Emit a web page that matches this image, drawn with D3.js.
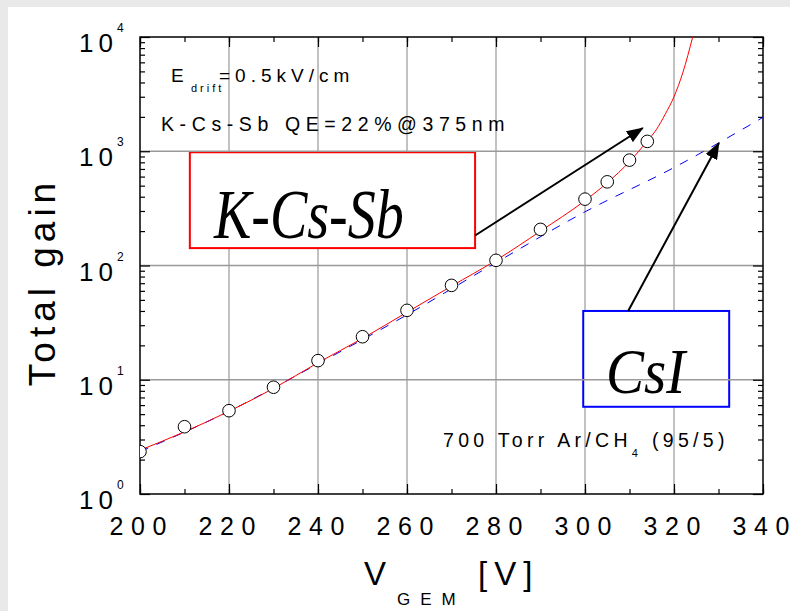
<!DOCTYPE html>
<html>
<head>
<meta charset="utf-8">
<script src="https://cdn.jsdelivr.net/npm/d3@7"></script>
<style>
  body { margin: 0; background: #e8e8e8; }
  svg { display: block; }
  text { font-family: "Liberation Sans", Arial, sans-serif; fill: #000; }
</style>
</head>
<body>
<div id="chart"></div>
<script>
// measured points (circles)
const volts = [200, 210, 220, 230, 240, 250, 260, 270, 280, 290, 300, 305, 310, 314];
const gains = [2.35, 3.88, 5.36, 8.6, 14.7, 23.8, 40.5, 67, 111, 207, 381, 540, 836, 1220];

// red fit curve (K-Cs-Sb)
const fitVolts = [200, 210, 220, 230, 240, 250, 260, 270, 280, 290, 300, 305, 310, 314, 316, 318, 320, 322, 324.2];
const fitGains = [2.42, 3.5, 5.3, 8.4, 14.1, 23, 39, 66, 111, 200, 370, 530, 810, 1230, 1540, 2100, 3000, 4900, 10000];

// blue dashed curve (CsI)
const csiVolts = [200, 220, 240, 260, 280, 300, 320, 340];
const csiGains = [2.35, 5.3, 13.8, 37, 106, 295, 720, 1980];

const xTicks = [200, 220, 240, 260, 280, 300, 320, 340];
const yExps = [0, 1, 2, 3, 4];

const W = 790, H = 611;
const plot = {left: 140, right: 763, top: 37, bottom: 494};

const svg = d3.select("#chart").append("svg")
    .attr("width", W)
    .attr("height", H);

// slide background: grey band top/left, white panel
svg.append("rect").attr("width", W).attr("height", H).attr("fill", "#e9e9e9");
svg.append("rect").attr("x", 8).attr("y", 7).attr("width", W - 8).attr("height", H - 7).attr("fill", "#fff");

const x = d3.scaleLinear().domain([200, 340]).range([plot.left, plot.right]);
const y = d3.scaleLog().domain([1, 1e4]).range([plot.bottom, plot.top]);

svg.append("defs").append("clipPath").attr("id", "clip")
  .append("rect")
    .attr("x", plot.left).attr("y", plot.top)
    .attr("width", plot.right - plot.left).attr("height", plot.bottom - plot.top);

svg.select("defs").append("marker")
    .attr("id", "head")
    .attr("viewBox", "0 0 17 13")
    .attr("refX", 16).attr("refY", 6.5)
    .attr("markerWidth", 17).attr("markerHeight", 13)
    .attr("markerUnits", "userSpaceOnUse")
    .attr("orient", "auto")
  .append("path")
    .attr("d", "M0,0L17,6.5L0,13Z")
    .attr("fill", "#000");

// vertical grid
svg.append("g").selectAll("line")
  .data(xTicks.slice(1, -1))
  .enter().append("line")
    .attr("x1", d => x(d)).attr("x2", d => x(d))
    .attr("y1", plot.top).attr("y2", plot.bottom)
    .attr("stroke", "#858585").attr("stroke-width", 1);

// K-Cs-Sb label box
svg.append("rect")
    .attr("x", x(211.2)).attr("y", y(1000) + 1)
    .attr("width", x(275.3) - x(211.2)).attr("height", y(142) - y(1000) - 1)
    .attr("fill", "#fff").attr("stroke", "#ff0000").attr("stroke-width", 2);

// CsI label box
svg.append("rect")
    .attr("x", x(299.6)).attr("y", y(40))
    .attr("width", x(332.4) - x(299.6)).attr("height", y(5.8) - y(40))
    .attr("fill", "#fff").attr("stroke", "#0000ff").attr("stroke-width", 2);

// horizontal grid
svg.append("g").selectAll("line")
  .data(yExps.slice(1, -1))
  .enter().append("line")
    .attr("x1", plot.left).attr("x2", plot.right)
    .attr("y1", d => y(Math.pow(10, d))).attr("y2", d => y(Math.pow(10, d)))
    .attr("stroke", "#999").attr("stroke-width", 1.5);

// ticks, pointing inward
const minorX = d3.range(200, 341, 10);
const minorY = [];
yExps.slice(0, -1).forEach(e => { for (let m = 2; m < 10; m++) minorY.push(m * Math.pow(10, e)); });
const majorY = yExps.map(e => Math.pow(10, e));

svg.append("g").attr("transform", "translate(0," + plot.bottom + ")")
    .call(d3.axisBottom(x).tickValues(minorX).tickSize(-5).tickFormat(""));
svg.append("g").attr("transform", "translate(0," + plot.bottom + ")")
    .call(d3.axisBottom(x).tickValues(xTicks).tickSize(-10).tickFormat(""));
svg.append("g").attr("transform", "translate(0," + plot.top + ")")
    .call(d3.axisTop(x).tickValues(minorX).tickSize(-5).tickFormat(""));
svg.append("g").attr("transform", "translate(0," + plot.top + ")")
    .call(d3.axisTop(x).tickValues(xTicks).tickSize(-10).tickFormat(""));
svg.append("g").attr("transform", "translate(" + plot.left + ",0)")
    .call(d3.axisLeft(y).tickValues(minorY).tickSize(-5).tickFormat(""));
svg.append("g").attr("transform", "translate(" + plot.left + ",0)")
    .call(d3.axisLeft(y).tickValues(majorY).tickSize(-10).tickFormat(""));
svg.append("g").attr("transform", "translate(" + plot.right + ",0)")
    .call(d3.axisRight(y).tickValues(minorY).tickSize(-5).tickFormat(""));
svg.append("g").attr("transform", "translate(" + plot.right + ",0)")
    .call(d3.axisRight(y).tickValues(majorY).tickSize(-10).tickFormat(""));
svg.selectAll(".domain").remove();
svg.selectAll(".tick line").attr("stroke", "#000").attr("stroke-width", 1.2);

// frame
svg.append("rect")
    .attr("x", plot.left).attr("y", plot.top)
    .attr("width", plot.right - plot.left).attr("height", plot.bottom - plot.top)
    .attr("fill", "none").attr("stroke", "#000").attr("stroke-width", 1.5);

// curves
const line = d3.line()
    .x(d => x(d[0]))
    .y(d => y(d[1]))
    .curve(d3.curveMonotoneX);

const curves = svg.append("g").attr("clip-path", "url(#clip)");

curves.append("path")
    .datum(csiVolts.map((v, i) => [v, csiGains[i]]))
    .attr("d", line)
    .attr("fill", "none").attr("stroke", "#0000ff").attr("stroke-width", 1)
    .attr("stroke-dasharray", "9,9");

curves.append("path")
    .datum(fitVolts.map((v, i) => [v, fitGains[i]]))
    .attr("d", line)
    .attr("fill", "none").attr("stroke", "#ff0000").attr("stroke-width", 1);

curves.selectAll("circle")
  .data(volts.map((v, i) => [v, gains[i]]))
  .enter().append("circle")
    .attr("cx", d => x(d[0]))
    .attr("cy", d => y(d[1]))
    .attr("r", 6.3)
    .attr("fill", "#fff").attr("stroke", "#000").attr("stroke-width", 1);

// arrows
svg.append("line")
    .attr("x1", x(275.3)).attr("y1", y(183))
    .attr("x2", x(313)).attr("y2", y(1597))
    .attr("stroke", "#000").attr("stroke-width", 2)
    .attr("marker-end", "url(#head)");
svg.append("line")
    .attr("x1", x(309.7)).attr("y1", y(40))
    .attr("x2", x(330.1)).attr("y2", y(1181))
    .attr("stroke", "#000").attr("stroke-width", 2)
    .attr("marker-end", "url(#head)");

// box labels
svg.append("text")
    .attr("transform", "translate(214,238) scale(1,1.25)")
    .style("font-family", "'Liberation Serif', 'Times New Roman', serif")
    .style("font-style", "italic")
    .attr("font-size", 56)
    .text("K-Cs-Sb");
svg.append("text")
    .attr("transform", "translate(606,393) scale(1,1.12)")
    .style("font-family", "'Liberation Serif', 'Times New Roman', serif")
    .style("font-style", "italic")
    .attr("font-size", 57)
    .text("CsI");

// tick labels
svg.append("g").selectAll("text")
  .data(xTicks)
  .enter().append("text")
    .attr("x", d => x(d) - 2)
    .attr("y", plot.bottom + 41)
    .attr("text-anchor", "middle")
    .attr("font-size", 25)
    .attr("textLength", 57)
    .attr("lengthAdjust", "spacing")
    .text(d => d);

const yLab = svg.append("g").selectAll("g")
  .data(yExps)
  .enter().append("g")
    .attr("transform", d => "translate(0," + y(Math.pow(10, d)) + ")");
yLab.append("text")
    .attr("x", 79).attr("y", 15)
    .attr("font-size", 26)
    .style("letter-spacing", "5px")
    .text("10");
yLab.append("text")
    .attr("x", 117).attr("y", -5)
    .attr("font-size", 12)
    .text(d => d);

// axis titles
svg.append("text")
    .attr("transform", "translate(55,282) rotate(-90)")
    .attr("text-anchor", "middle")
    .attr("font-size", 37)
    .style("letter-spacing", "5px")
    .text("Total gain");

const xt = svg.append("text").attr("y", 585).attr("font-size", 33);
xt.append("tspan").attr("x", 364).text("V");
xt.append("tspan").attr("x", 397).attr("y", 605).attr("font-size", 17)
    .style("letter-spacing", "10px").text("GEM");
xt.append("tspan").attr("x", 478).attr("y", 585)
    .style("letter-spacing", "7px").text("[V]");

// annotations
const e = svg.append("text").attr("y", 81.7).attr("font-size", 19);
e.append("tspan").attr("x", 171).text("E");
e.append("tspan").attr("x", 191).attr("y", 92).attr("font-size", 11)
    .style("letter-spacing", "3px").text("drift");
e.append("tspan").attr("x", 219).attr("y", 81.7)
    .style("letter-spacing", "5px").text("=0.5kV/cm");

svg.append("text")
    .attr("x", 161).attr("y", 131)
    .attr("font-size", 19.5)
    .style("letter-spacing", "5.6px")
    .text("K-Cs-Sb QE=22%@375nm");

const g = svg.append("text").attr("y", 446.7).attr("font-size", 19.5)
    .style("letter-spacing", "4.3px");
g.append("tspan").attr("x", 443).text("700 Torr Ar/CH");
g.append("tspan").attr("y", 457).attr("font-size", 11).text("4");
g.append("tspan").attr("y", 446.7).text(" (95/5)");
</script>
</body>
</html>
